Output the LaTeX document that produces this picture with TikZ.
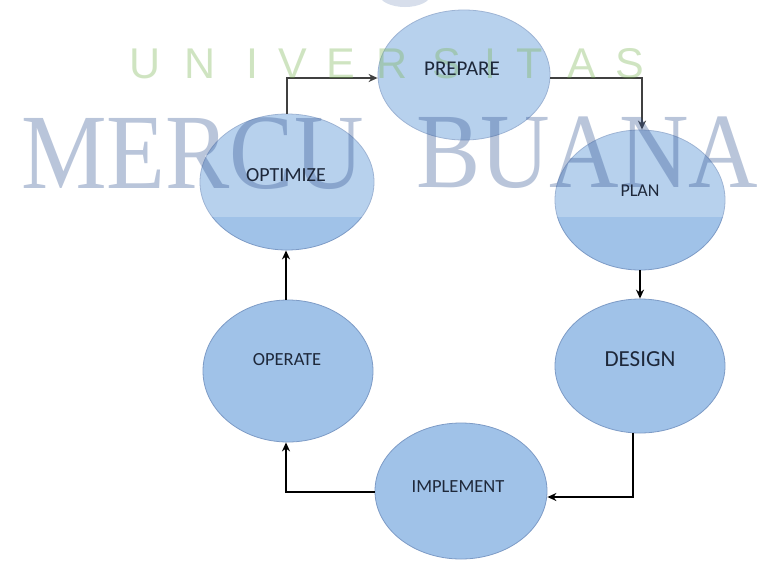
\documentclass[tikz,border=0pt]{standalone}
\usepackage{fontspec}
\setmainfont{Carlito}
\newfontfamily\wmserif{Liberation Serif}
\newfontfamily\wmsans{Liberation Sans}
\usetikzlibrary{shapes.geometric,arrows.meta}
\definecolor{ellfill}{RGB}{160,194,232}
\definecolor{elldraw}{RGB}{125,155,198}
\definecolor{txt}{RGB}{30,40,58}
\definecolor{wmblue}{RGB}{40,75,140}
\definecolor{wmgreen}{RGB}{120,180,80}
\definecolor{logo}{RGB}{150,170,205}
\begin{document}
\begin{tikzpicture}[x=1pt,y=-1pt,
  ell/.style={ellipse, draw=elldraw, line width=0.8pt, fill=ellfill, inner sep=0pt},
  lbl/.style={text=txt, inner sep=0pt},
  arr/.style={line width=1.5pt, draw=black, -{Stealth[length=9pt,width=8pt]}},
  wmb/.style={text=wmblue, opacity=0.32, inner sep=0pt, anchor=base west, xscale=0.9,
    font=\wmserif\fontsize{107}{107}\selectfont},
  wmg/.style={text=wmgreen, opacity=0.35, inner sep=0pt,
    font=\wmsans\fontsize{43}{43}\selectfont}]
\useasboundingbox (0,0) rectangle (761,563);
\fill[white] (0,0) rectangle (761,563);
% logo fragment
\fill[logo, opacity=0.5] (405,-6) ellipse (26pt and 13pt);
% phases
\node[ell, minimum width=172pt, minimum height=130pt] (prep) at (464,75) {};
\node[ell, minimum width=174pt, minimum height=136pt] (opt) at (287,182) {};
\node[ell, minimum width=170pt, minimum height=140pt] (plan) at (640,200) {};
\node[ell, minimum width=170pt, minimum height=134pt] (des) at (640,366) {};
\node[ell, minimum width=170pt, minimum height=142pt] (oper) at (288,371) {};
\node[ell, minimum width=172pt, minimum height=136pt] (imp) at (461,491) {};
% connectors
\draw[arr] (opt.north) |- ([yshift=-3pt]prep.west);
\draw[arr] ([yshift=-3pt]prep.east) -| ([xshift=2pt]plan.north);
\draw[arr] (plan.south) -- (des.north);
\draw[arr, line width=1.9pt] ([xshift=-7pt]des.south) |- ([yshift=-6pt]imp.east);
\draw[arr] ([yshift=-1pt]imp.west) -| ([xshift=-2pt]oper.south);
\draw[arr, line width=2.1pt] ([xshift=-2pt]oper.north) -- ([xshift=-1pt]opt.south);
% washed band of the watermark
\fill[white, opacity=0.25] (0,0) rectangle (761,217);
% watermark
\foreach \l/\x [count=\i] in {U/145,N/200,I/252,V/293,E/341,R/392,S/447,I/490,T/530,A/582,S/630}
  \node[wmg] (u\i) at (\x,64) {\l};
\node[wmb] (wm1) at (21,188) {MERCU};
\node[wmb] (wm2) at (416,187) {BUANA};
% labels
\node[lbl, font=\fontsize{21}{21}\selectfont] (tprep) at (462,69) {PREPARE};
\node[lbl, font=\fontsize{20}{20}\selectfont] (topt) at (286,175) {OPTIMIZE};
\node[lbl, font=\fontsize{18}{18}\selectfont] (tplan) at (640,191) {PLAN};
\node[lbl, font=\fontsize{23}{23}\selectfont] (tdes) at (640,359) {DESIGN};
\node[lbl, font=\fontsize{18.5}{18.5}\selectfont] (toper) at (287,360) {OPERATE};
\node[lbl, font=\fontsize{18.5}{18.5}\selectfont] (timp) at (458,487) {IMPLEMENT};
\end{tikzpicture}
\end{document}
